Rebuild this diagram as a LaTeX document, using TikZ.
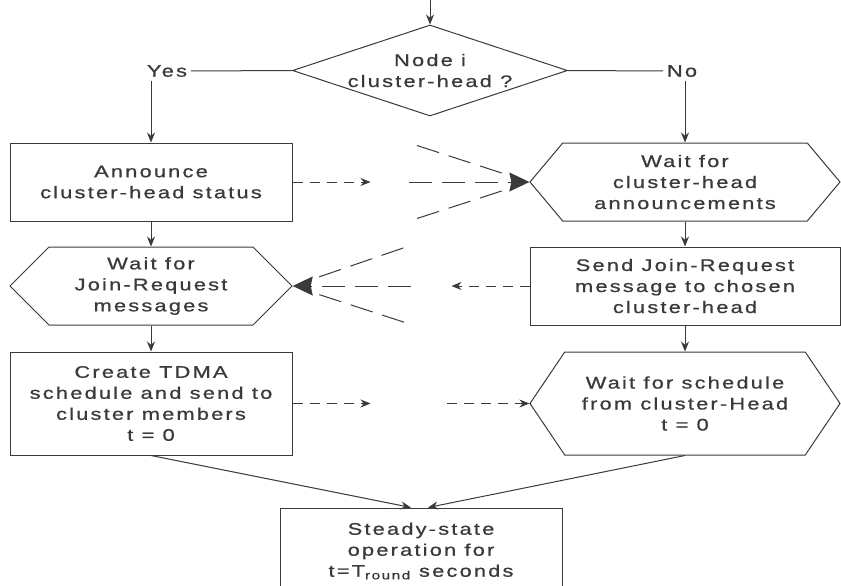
\documentclass[tikz,border=0pt]{standalone}
\usepackage{fontspec}
\setmainfont{Liberation Sans}[FakeStretch = 1.3, LetterSpace = 13, FakeBold = 0.8]
\usetikzlibrary{calc, arrows.meta, shapes.geometric, shapes.symbols}
\definecolor{ink}{HTML}{3A3A3A}

\begin{document}
\begin{tikzpicture}[
		x = 1pt, y = 1pt,
		color = ink, line width = 1pt,
		font = \fontsize{16.8pt}{21pt}\selectfont,
		box/.style = {draw, rectangle, inner sep = 0pt, align = center, minimum width = 282pt},
		wait/.style = {draw, signal, signal to = west and east, inner sep = 0pt, align = center},
		flow/.style = {-{Stealth[length = 10pt, width = 8pt]}},
		big/.style = {-{Stealth[length = 20pt, width = 19pt, inset = 2pt]}},
		hint/.style = {dash pattern = on 10pt off 7pt},
		fan/.style = {dash pattern = on 23pt off 10pt},
	]
		\def\lx{151};
		\def\rx{685};
		
		\useasboundingbox (0,0) rectangle (841,-586);
		\clip (0,0) rectangle (841,-586);
		
		\coordinate (entry) at (430,0);
		
		\node [draw, diamond, aspect = 3, minimum width = 275pt, minimum height = 91pt, inner sep = 0pt, align = center] (decide) at (430,-70.5) {Node i\\cluster-head ?};
		
		\node (yes) at (167,-71) {Yes};
		\node (no) at (682,-71) {No};
		
		\node [box, minimum height = 78pt] (announce) at (\lx,-182) {Announce\\cluster-head status};
		\node [wait, minimum width = 282pt, minimum height = 78pt, signal pointer angle = 90] (wait join) at (\lx,-286) {Wait for\\Join-Request\\messages};
		\node [box, minimum height = 103pt] (schedule) at (\lx,-403.5) {Create TDMA\\schedule and send to\\cluster members\\t = 0};
		
		\node [wait, minimum width = 310pt, minimum height = 78pt, signal pointer angle = 100] (wait head) at (\rx,-182) {Wait for\\cluster-head\\announcements};
		\node [box, minimum width = 310pt, minimum height = 78pt] (send join) at (\rx,-286) {Send Join-Request\\message to chosen\\cluster-head};
		\node [wait, minimum width = 310pt, minimum height = 103pt, signal pointer angle = 112] (wait schedule) at (\rx,-403.5) {Wait for schedule\\from cluster-Head\\t = 0};
		
		\node [box, minimum height = 86pt] (steady) at (421,-551) {Steady-state\\operation for\\t=T\textsubscript{round} seconds};
		
		\coordinate (steady left) at ($ (steady.north) + (-10,0) $);
		\coordinate (steady right) at ($ (steady.north) + (7,0) $);
		
		\draw [flow] (entry) -- (decide.north);
		\draw (decide.west) -- (yes.east);
		\draw (decide.east) -- (no.west);
		\draw [flow] (announce.north |- yes.south) -- (announce.north);
		\draw [flow] (wait head.north |- no.south) -- (wait head.north);
		
		\draw [flow] (announce.south) -- (wait join.north);
		\draw [flow] (wait join.south) -- (schedule.north);
		\draw [flow] (wait head.south) -- (send join.north);
		\draw [flow] (send join.south) -- (wait schedule.north);
		
		\draw [flow] (schedule.south) -- (steady left);
		\draw [flow] (wait schedule.south) -- (steady right);
		
		% announcement to the other nodes
		\coordinate (announce out) at ($ (announce.east) + (78,0) $);
		\draw [flow, hint] (announce.east) -- (announce out);
		
		\coordinate (head top) at ($ (wait head.west) + (162:118) $);
		\coordinate (head mid) at ($ (wait head.west) + (180:120) $);
		\coordinate (head low) at ($ (wait head.west) + (198:118) $);
		\draw [fan, shorten >= 7pt] (head top) -- (wait head.west);
		\draw [fan, shorten >= 7pt] (head low) -- (wait head.west);
		\draw [fan, big] (head mid) -- (wait head.west);
		
		% join request back to the cluster-head
		\coordinate (send out) at ($ (send join.west) + (-78,0) $);
		\draw [flow, hint] (send join.west) -- (send out);
		
		\coordinate (join top) at ($ (wait join.east) + (19:117) $);
		\coordinate (join mid) at ($ (wait join.east) + (0:118) $);
		\coordinate (join low) at ($ (wait join.east) + (-18:117) $);
		\draw [fan, shorten >= 7pt] (join top) -- (wait join.east);
		\draw [fan, shorten >= 7pt] (join low) -- (wait join.east);
		\draw [fan, big] (join mid) -- (wait join.east);
		
		% schedule to the members
		\coordinate (schedule out) at ($ (schedule.east) + (78,0) $);
		\draw [flow, hint] (schedule.east) -- (schedule out);
		
		\coordinate (schedule in) at ($ (wait schedule.west) + (-82,0) $);
		\draw [flow, hint] (schedule in) -- (wait schedule.west);
	\end{tikzpicture}
\end{document}
